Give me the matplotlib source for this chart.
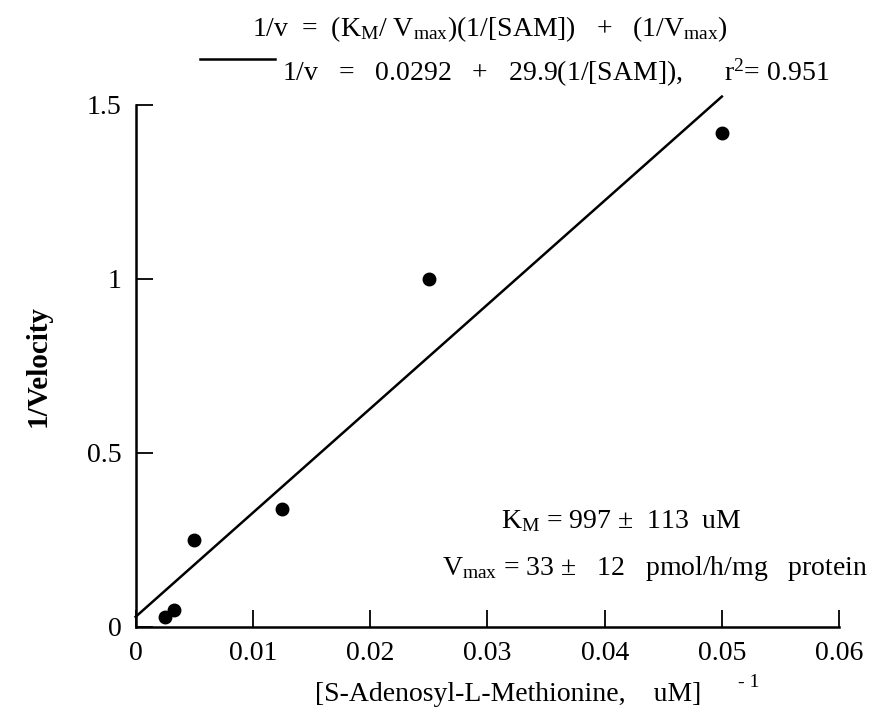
import numpy as np
import matplotlib
matplotlib.use("Agg")
from matplotlib import pyplot as plt

# data
inv_sam = [0.0025, 0.0033, 0.005, 0.0125, 0.025, 0.05]
inv_vel = [0.03, 0.05, 0.25, 0.34, 1.0, 1.42]
intercept = 0.0292
slope = 29.9
fit_x = [0.0, 0.05]

x_ticks = [0, 0.01, 0.02, 0.03, 0.04, 0.05, 0.06]
x_labels = ["0", "0.01", "0.02", "0.03", "0.04", "0.05", "0.06"]
y_ticks = [0, 0.5, 1, 1.5]
y_labels = ["0", "0.5", "1", "1.5"]

plt.rcParams['font.family'] = ['Liberation Serif', 'DejaVu Serif']
plt.rcParams['mathtext.fontset'] = 'custom'
plt.rcParams['mathtext.rm'] = 'Liberation Serif'
plt.rcParams['mathtext.it'] = 'Liberation Serif:italic'

FS = 20

fig = plt.figure(figsize=(8.75, 7.19), dpi=100)
ax = fig.add_axes([0.155, 0.128, 0.804, 0.726])

fx = np.array(fit_x)
ax.plot(fx, intercept + slope * fx, color='black', linewidth=1.8, clip_on=False)
ax.plot(inv_sam, inv_vel, 'o', color='black', markersize=9, clip_on=False)

ax.set_xlim(0, 0.06)
ax.set_ylim(0, 1.5)
ax.set_xticks(x_ticks)
ax.set_xticklabels(x_labels)
ax.set_yticks(y_ticks)
ax.set_yticklabels(y_labels)
ax.tick_params(direction='in', length=12, width=1.3, labelsize=FS, pad=10)
for side in ['top', 'right']:
    ax.spines[side].set_visible(False)
for side in ['left', 'bottom']:
    ax.spines[side].set_linewidth(1.8)

ax.set_ylabel("1/Velocity", fontsize=FS + 1, fontweight='bold')
ax.yaxis.set_label_coords(-0.12, 0.5)
ax.set_xlabel("[S-Adenosyl-L-Methionine,    uM]", fontsize=FS)
ax.xaxis.set_label_coords(0.53, -0.105)
fig.text(0.843, 0.045, "- 1", fontsize=14)

# header equations
fig.text(0.56, 0.96, r"1/v  =  (K$_\mathrm{M}$/ V$_\mathrm{max}$)(1/[SAM])   +   (1/V$_\mathrm{max}$)",
         fontsize=FS, ha='center', va='center')
fig.lines.append(plt.Line2D([0.229, 0.314], [0.918, 0.918], transform=fig.transFigure,
                            color='black', linewidth=1.8))
fig.text(0.322, 0.898, r"1/v   =   0.0292   +   29.9(1/[SAM]),      r$^2$= 0.951",
         fontsize=FS, ha='left', va='center')

# fitted constants
fig.text(0.573, 0.275, r"K$_\mathrm{M}$ = 997 ±  113  uM", fontsize=FS, ha='left', va='center')
fig.text(0.505, 0.209, r"V$_\mathrm{max}$ = 33 ±   12   pmol/h/mg   protein", fontsize=FS,
         ha='left', va='center')

fig.savefig("out.png", dpi=100)
